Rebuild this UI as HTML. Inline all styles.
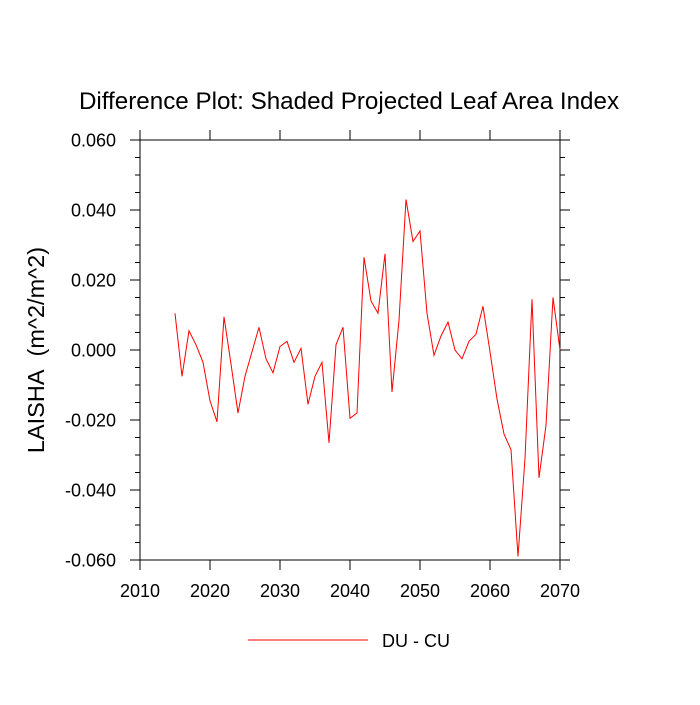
<!DOCTYPE html>
<html><head><meta charset="utf-8"><style>
body{margin:0;background:#fff;}
svg text{font-family:"Liberation Sans",sans-serif;fill:#000;}
</style></head><body>
<svg id="chart" width="700" height="700" xmlns="http://www.w3.org/2000/svg">
<text x="349" y="109" font-size="24.2" text-anchor="middle">Difference Plot: Shaded Projected Leaf Area Index</text>
<text transform="translate(44,350) rotate(-90)" font-size="23.5" text-anchor="middle">LAISHA&#160;&#160;(m^2/m^2)</text>
<g id="axes"></g>
<g id="series"></g>
<g>
<line x1="248" y1="640" x2="368" y2="640" stroke="#f00" stroke-width="1"/>
<text x="382" y="647" font-size="18">DU - CU</text>
</g>
</svg>
<script>
const years=[2015,2016,2017,2018,2019,2020,2021,2022,2023,2024,2025,2026,2027,2028,2029,2030,2031,2032,2033,2034,2035,2036,2037,2038,2039,2040,2041,2042,2043,2044,2045,2046,2047,2048,2049,2050,2051,2052,2053,2054,2055,2056,2057,2058,2059,2060,2061,2062,2063,2064,2065,2066,2067,2068,2069,2070];
const values=[0.0105,-0.0075,0.0055,0.0015,-0.0035,-0.0145,-0.0205,0.0095,-0.004,-0.018,-0.0075,-0.0005,0.0065,-0.0025,-0.0065,0.001,0.0025,-0.0035,0.0005,-0.0155,-0.0075,-0.0035,-0.0265,0.0015,0.0065,-0.0195,-0.018,0.0265,0.014,0.0105,0.0275,-0.012,0.0085,0.043,0.031,0.034,0.0105,-0.0015,0.004,0.008,0.000,-0.0025,0.0025,0.0045,0.0125,-0.0005,-0.014,-0.024,-0.0285,-0.059,-0.031,0.0145,-0.0365,-0.0215,0.015,0.000];
const xTicks=[2010,2020,2030,2040,2050,2060,2070];
const yTicks=[-0.06,-0.04,-0.02,0,0.02,0.04,0.06];
const yTickLabels=["-0.060","-0.040","-0.020","0.000","0.020","0.040","0.060"];
const L=140,R=560,T=140,B=560,xMin=2010,xMax=2070,yMin=-0.06,yMax=0.06;
const xs=v=>L+(v-xMin)/(xMax-xMin)*(R-L);
const ys=v=>B-(v-yMin)/(yMax-yMin)*(B-T);
const NS="http://www.w3.org/2000/svg";
const ax=document.getElementById('axes');
function mk(tag,attrs,parent){const e=document.createElementNS(NS,tag);for(const k in attrs)e.setAttribute(k,attrs[k]);parent.appendChild(e);return e;}
const frame=mk('rect',{x:L,y:T,width:R-L,height:B-T,fill:'none',stroke:'#000','stroke-width':1},ax);


const tk={stroke:'#000','stroke-width':1};
for(let i=0;i<=24;i++){
  const v=yMin+i*0.005, y=ys(v), major=i%4===0, len=major?10:5;
  const a=mk('line',Object.assign({x1:L-len,y1:y,x2:L,y2:y},tk),ax);
  
  
  const b=mk('line',Object.assign({x1:R,y1:y,x2:R+len,y2:y},tk),ax);
  
  
}
yTicks.forEach((v,i)=>{
  const t=mk('text',{x:L-24,y:ys(v)+6.5,'font-size':18,'text-anchor':'end'},ax);
  t.textContent=yTickLabels[i];
  
  
});
xTicks.forEach(v=>{
  const x=xs(v);
  const a=mk('line',Object.assign({x1:x,y1:B,x2:x,y2:B+10},tk),ax);
  
  
  const b=mk('line',Object.assign({x1:x,y1:T-10,x2:x,y2:T},tk),ax);
  
  
  const t=mk('text',{x:x,y:B+37,'font-size':18,'text-anchor':'middle'},ax);
  t.textContent=v;
  
  
});
const pts=years.map((y,i)=>xs(y).toFixed(1)+','+ys(values[i]).toFixed(1)).join(' ');
const line=mk('polyline',{points:pts,fill:'none',stroke:'#f00','stroke-width':1},document.getElementById('series'));


</script>
</body></html>
